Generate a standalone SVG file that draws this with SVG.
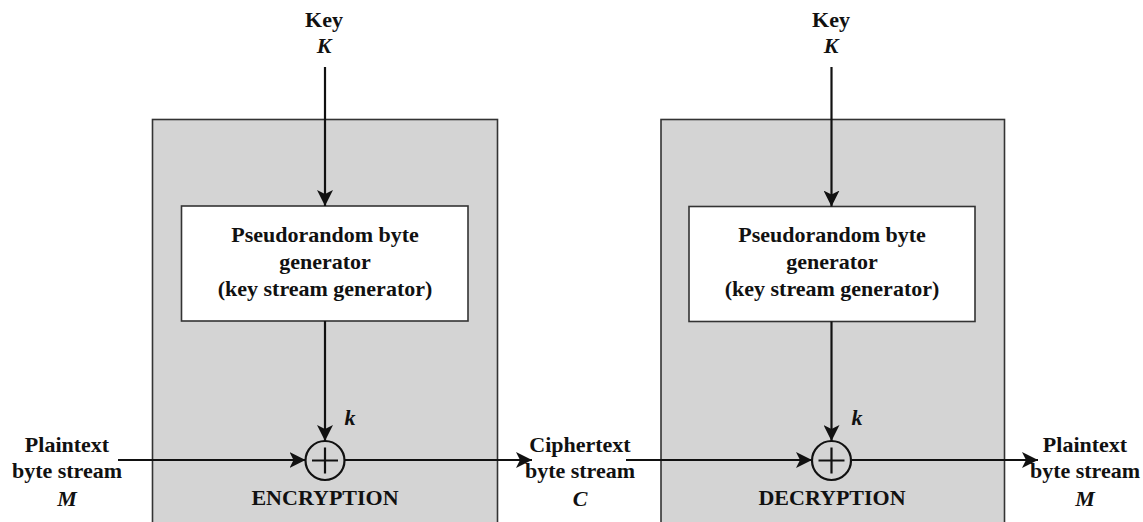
<svg xmlns="http://www.w3.org/2000/svg" width="1143" height="522" viewBox="0 0 1143 522">
<style>
.t{font-family:"Liberation Serif","Times New Roman",serif;font-size:22px;font-weight:bold;fill:#111;text-anchor:middle}
.i{font-style:italic}
.outer{fill:#d4d4d4;stroke:#333;stroke-width:1.6}
.inner{fill:#fff;stroke:#333;stroke-width:1.6}
.c{fill:none;stroke:#111;stroke-width:2.2}
.x{fill:none;stroke:#111;stroke-width:2.2}
</style>
<defs>
<marker id="ah" markerUnits="userSpaceOnUse" markerWidth="18" markerHeight="16" refX="16" refY="8" orient="auto">
<path d="M0,0 L16,8 L0,16 L4,8 z" fill="#111"/>
</marker>
</defs>
<rect width="1143" height="522" fill="#fff"/>
<g id="enc">
<rect class="outer" x="152.5" y="119.5" width="345" height="410"/>
<text class="t" x="325" y="505">ENCRYPTION</text>
</g>
<g id="dec">
<rect class="outer" x="661" y="119.5" width="343.5" height="410"/>
<text class="t" x="832" y="505">DECRYPTION</text>
</g>
<g id="gen1">
<rect class="inner" x="181.5" y="206" width="286.5" height="115"/>
<text class="t" x="325" y="242">Pseudorandom byte</text>
<text class="t" x="325" y="269">generator</text>
<text class="t" x="325" y="296">(key stream generator)</text>
</g>
<g id="gen2">
<rect class="inner" x="689" y="206.5" width="286" height="115"/>
<text class="t" x="832" y="242">Pseudorandom byte</text>
<text class="t" x="832" y="269">generator</text>
<text class="t" x="832" y="296">(key stream generator)</text>
</g>
<g id="key1">
<text class="t" x="324" y="27">Key</text>
<text class="t i" x="324" y="53">K</text>
</g>
<g id="key2">
<text class="t" x="831" y="27">Key</text>
<text class="t i" x="831" y="53">K</text>
</g>
<g id="xor1">
<circle class="x" cx="325" cy="460.5" r="19.5"/>
<path class="x" d="M312,460.5 H338 M325,447.5 V473.5"/>
</g>
<g id="xor2">
<circle class="x" cx="831.5" cy="460.5" r="19.5"/>
<path class="x" d="M818.5,460.5 H844.5 M831.5,447.5 V473.5"/>
</g>
<g id="plain-in">
<text class="t" x="67" y="452">Plaintext</text>
<text class="t" x="67" y="478">byte stream</text>
<text class="t i" x="67" y="506">M</text>
</g>
<g id="cipher">
<text class="t" x="580" y="452">Ciphertext</text>
<text class="t" x="580" y="478">byte stream</text>
<text class="t i" x="580" y="506">C</text>
</g>
<g id="plain-out">
<text class="t" x="1085" y="452">Plaintext</text>
<text class="t" x="1085" y="478">byte stream</text>
<text class="t i" x="1085" y="506">M</text>
</g>
<g id="connectors">
<line class="c" x1="325" y1="67" x2="325" y2="206" marker-end="url(#ah)"/>
<line class="c" x1="831.5" y1="67" x2="831.5" y2="206.5" marker-end="url(#ah)"/>
<line class="c" x1="325" y1="321" x2="325" y2="441" marker-end="url(#ah)"/>
<line class="c" x1="831.5" y1="321.5" x2="831.5" y2="441" marker-end="url(#ah)"/>
<line class="c" x1="118" y1="460" x2="305.5" y2="460" marker-end="url(#ah)"/>
<line class="c" x1="344.5" y1="460" x2="532" y2="460" marker-end="url(#ah)"/>
<line class="c" x1="626" y1="460" x2="812" y2="460" marker-end="url(#ah)"/>
<line class="c" x1="851" y1="460" x2="1038" y2="460" marker-end="url(#ah)"/>
<text class="t i" x="350" y="425">k</text>
<text class="t i" x="857" y="425">k</text>
</g>
</svg>
